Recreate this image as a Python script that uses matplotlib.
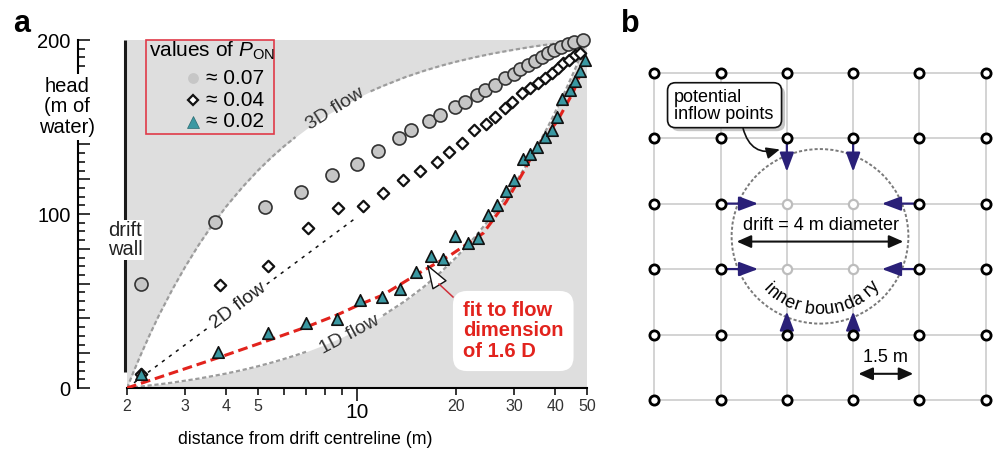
import numpy as np
import matplotlib
matplotlib.use("Agg")
import matplotlib.pyplot as plt
from matplotlib.lines import Line2D
from matplotlib.patches import Rectangle, FancyBboxPatch, Circle
from matplotlib.ticker import FixedLocator, FuncFormatter, MultipleLocator

plt.rcParams["font.family"] = ["Liberation Sans", "DejaVu Sans"]
plt.rcParams["mathtext.fontset"] = "custom"
plt.rcParams["mathtext.rm"] = "Liberation Sans"
plt.rcParams["mathtext.it"] = "Liberation Sans:italic"

# ---- panel a: head (m of water) vs distance from drift centreline (m) ----
r_p07 = [2.2, 3.7, 5.26, 6.76, 8.41, 10.0, 11.6, 13.4, 14.6, 16.5, 17.9, 19.9, 21.3, 23.1,
         24.5, 26.2, 28.2, 29.9, 31.3, 33.2, 34.8, 36.4, 38.0, 39.8, 41.6, 43.7, 45.7, 48.7]
h_p07 = [59.5, 95.6, 104.2, 112.8, 122.4, 129.0, 136.4, 143.5, 148.3, 153.6, 156.9, 161.3, 164.6, 168.4,
         171.3, 174.1, 178.0, 180.5, 183.2, 185.6, 188.1, 190.0, 192.3, 194.3, 196.1, 197.7, 199.0, 200.0]

r_p04 = [2.2, 3.83, 5.38, 7.11, 8.73, 10.45, 12.0, 13.8, 15.5, 17.5, 19.0, 20.8, 22.6, 24.6,
         26.2, 28.2, 29.5, 31.7, 33.6, 35.6, 37.3, 39.1, 40.9, 42.4, 44.2, 46.0, 47.6]
h_p04 = [8.0, 59.2, 70.1, 91.8, 103.6, 104.7, 111.9, 119.5, 124.8, 130.0, 135.8, 140.6, 148.3, 151.7,
         155.6, 160.7, 164.5, 169.7, 172.2, 175.5, 178.0, 180.9, 183.7, 186.6, 188.5, 191.4, 192.7]

r_p02 = [2.2, 3.77, 5.37, 6.98, 8.67, 10.2, 11.9, 13.5, 15.1, 16.75, 18.3, 19.9, 21.7, 23.4, 25.0,
         26.6, 28.4, 30.1, 31.9, 33.6, 35.2, 37.3, 39.1, 40.5, 41.9, 44.4, 46.0, 47.6, 49.3]
h_p02 = [8.0, 20.9, 31.4, 37.5, 39.7, 50.8, 52.3, 57.0, 66.5, 75.9, 74.0, 87.2, 83.3, 86.0, 99.4,
         105.1, 113.1, 119.3, 131.5, 134.7, 138.7, 144.2, 148.5, 155.8, 165.9, 171.3, 176.3, 182.1, 188.3]

# theoretical profiles (3D / 1D flow)
r_theory = [2, 2.1, 2.2, 2.35, 2.5, 2.75, 3, 3.3, 3.6, 4, 4.5, 5, 5.5, 6, 6.5, 7, 8, 9, 10, 11,
            12, 14, 16, 18, 20, 23, 26, 30, 34, 38, 42, 46, 50]
h_3d = [0, 9.9, 18.9, 31.0, 41.7, 56.8, 69.4, 82.1, 92.6, 104.2, 115.7, 125.0, 132.6, 138.9, 144.2,
        148.8, 156.3, 162.0, 166.7, 170.5, 173.6, 178.6, 182.3, 185.2, 187.5, 190.2, 192.3, 194.4,
        196.1, 197.4, 198.4, 199.3, 200.0]
h_1d = [0, 0.4, 0.8, 1.5, 2.1, 3.1, 4.2, 5.4, 6.7, 8.3, 10.4, 12.5, 14.6, 16.7, 18.75, 20.8, 25.0,
        29.2, 33.3, 37.5, 41.7, 50.0, 58.3, 66.7, 75.0, 87.5, 100.0, 116.7, 133.3, 150.0, 166.7,
        183.3, 200.0]
r_2d = [2, 9.8]
h_2d = [0, 97]

r_fit = [2, 3.8, 5.4, 7.0, 8.7, 10.2, 12, 15.1, 19.1, 24.2, 28.4, 32, 35.3, 40.5, 45.4, 49.6]
h_fit = [0, 17.5, 27.5, 35, 42, 48, 53.5, 65, 76, 89, 107, 124, 139, 153, 170, 188.5]

major_x = [10]
minor_x = [2, 3, 4, 5, 6, 7, 8, 9, 20, 30, 40, 50]
minor_x_labels = {2: "2", 3: "3", 4: "4", 5: "5", 20: "20", 30: "30", 40: "40", 50: "50"}
y_labels = {0: "0", 100: "100", 200: "200"}

legend_labels = ["\u2248 0.07", "\u2248 0.04", "\u2248 0.02"]

# ---- panel b: model grid (m) ----
grid_x = [0.0, 1.5, 3.0, 4.5, 6.0, 7.5]
grid_y = [0.0, 1.5, 3.0, 4.5, 6.0, 7.5]
inner_nodes = [(3.0, 3.0), (3.0, 4.5), (4.5, 3.0), (4.5, 4.5)]
drift_centre = (3.75, 3.75)
drift_radius = 2.0
inflow_start = [(3.0, 6.0), (4.5, 6.0), (3.0, 1.5), (4.5, 1.5),
                (1.5, 4.5), (1.5, 3.0), (6.0, 4.5), (6.0, 3.0)]
inflow_end = [(3.0, 5.23), (4.5, 5.23), (3.0, 2.03), (4.5, 2.03),
              (2.35, 4.5), (2.35, 3.0), (5.15, 4.5), (5.15, 3.0)]

W, H = 998, 455
fig = plt.figure(figsize=(W / 100, H / 100), dpi=100)


def px(x, y):
    # figure pixel (from top-left) -> figure fraction
    return x / W, 1 - y / H


GRAY_BG = "#dedede"
CIRC_FC = "#c6c6c6"
TEAL = "#3a98a2"
RED = "#e2231d"
NAVY = "#2a2078"

# ================= panel a =================
ax = fig.add_axes([127 / W, 1 - 388 / H, 460 / W, 348 / H])
ax.set_xscale("log")
ax.set_xlim(2, 50)
ax.set_ylim(0, 200)
ax.set_facecolor(GRAY_BG)
for s in ["top", "right"]:
    ax.spines[s].set_visible(False)
ax.spines["left"].set_position(("outward", 35))
ax.spines["left"].set_bounds(0, 200)
ax.spines["left"].set_linewidth(1.5)
ax.spines["bottom"].set_linewidth(1.5)

ax.yaxis.set_major_locator(FixedLocator(list(range(0, 201, 20))))
ax.yaxis.set_minor_locator(MultipleLocator(5))
ax.yaxis.set_major_formatter(FuncFormatter(lambda v, _: y_labels.get(int(round(v)), "")))
ax.tick_params(axis="y", which="major", direction="in", length=8.6, width=1.1,
               labelsize=14.5, pad=5.5)
ax.tick_params(axis="y", which="minor", direction="in", length=4.8, width=1.1)

ax.xaxis.set_major_locator(FixedLocator(major_x))
ax.xaxis.set_minor_locator(FixedLocator(minor_x))
ax.xaxis.set_major_formatter(FuncFormatter(lambda v, _: "10"))
ax.xaxis.set_minor_formatter(FuncFormatter(lambda v, _: minor_x_labels.get(int(round(v)), "")))
ax.tick_params(axis="x", which="major", direction="out", length=9.5, width=1.1,
               labelsize=15, pad=1)
ax.tick_params(axis="x", which="minor", direction="out", length=5, width=1.1,
               labelsize=11.5, pad=3, labelcolor="#333333")

# white region between the 3D and 1D profiles
ax.fill_between(r_theory, h_1d, h_3d, color="white", lw=0, zorder=1)

r_arr = np.array(r_theory)
h3 = np.where((r_arr > 6.5) & (r_arr < 11), np.nan, h_3d)
h1 = np.where((r_arr > 7) & (r_arr < 12), np.nan, h_1d)
ax.plot(r_arr, h3, color="#9c9c9c", lw=1.6, dashes=(1.9, 1.2), zorder=2)
ax.plot(r_arr, h1, color="#9c9c9c", lw=1.6, dashes=(1.9, 1.2), zorder=2)
ax.plot(r_2d, h_2d, color="#111111", lw=1.1, dashes=(2.2, 3.5), zorder=2)
ax.plot(r_fit, h_fit, color=RED, lw=2.2, dashes=(3.2, 1.6), zorder=3)

ax.scatter(r_p07, h_p07, s=88, marker="o", fc=CIRC_FC, ec="#333333", lw=1.2, zorder=4, clip_on=False)
ax.scatter(r_p04, h_p04, s=34, marker="D", fc="white", ec="#111111", lw=1.6, zorder=4, clip_on=False)
ax.scatter(r_p02, h_p02, s=68, marker="^", fc=TEAL, ec="#111111", lw=1.2, zorder=5, clip_on=False)

# drift wall
ax.plot([1.975, 1.975], [9, 200], color="#1a1a1a", lw=2.2, solid_capstyle="butt",
        clip_on=False, zorder=6)
ax.text(1.975, 85, "drift\nwall", ha="center", va="center", fontsize=14.5, linespacing=1.0,
        color="#222222", bbox=dict(boxstyle="square,pad=0.05", fc="white", ec="none"),
        zorder=7, clip_on=False)

ax.text(8.58, 160.5, "3D flow", rotation=32, ha="center", va="center", fontsize=14,
        color="#333333", rotation_mode="anchor", zorder=6)
ax.text(4.36, 47, "2D flow", rotation=37, ha="center", va="center", fontsize=14,
        color="#222222", rotation_mode="anchor", zorder=6,
        bbox=dict(boxstyle="square,pad=0.1", fc="white", ec="none"))
ax.text(9.53, 30.5, "1D flow", rotation=28, ha="center", va="center", fontsize=14,
        color="#333333", rotation_mode="anchor", zorder=6)

# y label breaking the axis
fig.text(*px(67, 107), "head\n(m of\nwater)", ha="center", va="center", fontsize=14.5,
         linespacing=1.12, bbox=dict(boxstyle="square,pad=0.15", fc="white", ec="none"))
fig.text(*px(305, 440), "distance from drift centreline (m)", ha="center", va="center",
         fontsize=12.8)

# legend box
fig.add_artist(Rectangle(px(146, 134), 128 / W, 94 / H, transform=fig.transFigure,
                         fill=False, ec="#e03a48", lw=1.2))
fig.text(*px(149, 51), "values of $P_{\\mathrm{ON}}$", ha="left", va="center", fontsize=15)
leg_y = [78, 100, 122]
leg_style = [dict(marker="o", ms=7.8, mfc=CIRC_FC, mec=CIRC_FC, mew=0),
             dict(marker="D", ms=5.4, mfc="white", mec="#111111", mew=1.6),
             dict(marker="^", ms=8.3, mfc=TEAL, mec="#2a6a70", mew=0.5)]
for yy, lab, st in zip(leg_y, legend_labels, leg_style):
    fx, fy = px(193, yy)
    fig.add_artist(Line2D([fx], [fy], transform=fig.transFigure, ls="none", **st))
    fig.text(*px(206, yy), lab, ha="left", va="center", fontsize=15)

# fit annotation
fig.text(*px(463, 331), "fit to flow\ndimension\nof 1.6 D", ha="left", va="center",
         color=RED, fontweight="bold", fontsize=14.5, linespacing=1.1,
         bbox=dict(boxstyle="round,pad=0.5,rounding_size=0.7", fc="white", ec="none"))
fig.add_artist(Line2D([px(453, 297)[0], px(439, 284)[0]], [px(453, 297)[1], px(439, 284)[1]],
                      transform=fig.transFigure, color="#d0303a", lw=1.1))
ax.annotate("", xy=px(426.7, 264), xytext=px(439, 284), xycoords="figure fraction",
            textcoords="figure fraction",
            arrowprops=dict(arrowstyle="-|>,head_length=1.6,head_width=0.55", fc="white",
                            ec="#111111", lw=1.0, shrinkA=0, shrinkB=0), zorder=8)

fig.text(*px(13, 32), "a", fontsize=22, fontweight="bold", ha="left", va="baseline")
fig.text(*px(621, 31.5), "b", fontsize=22, fontweight="bold", ha="left", va="baseline")

# ================= panel b =================
axb = fig.add_axes([620 / W, 1 - 440 / H, 378 / W, 400 / H])
axb.set_xlim(-0.776, 7.778)
axb.set_ylim(-0.917, 8.249)
axb.axis("off")

for gy in grid_y:
    axb.plot([grid_x[0], grid_x[-1]], [gy, gy], color="#c8c8c8", lw=1.1, zorder=1)
for gx in grid_x:
    axb.plot([gx, gx], [grid_y[0], grid_y[-1]], color="#c8c8c8", lw=1.1, zorder=1)

axb.add_patch(Circle(drift_centre, drift_radius, fill=False, ec="#7a7a7a", lw=1.4,
                     ls=(0, (1.6, 1.1)), zorder=2))

for (x0, y0), (x1, y1) in zip(inflow_start, inflow_end):
    axb.annotate("", xy=(x1, y1), xytext=(x0, y0),
                 arrowprops=dict(arrowstyle="-|>,head_length=1.15,head_width=0.43",
                                 color=NAVY, lw=1.6, shrinkA=0, shrinkB=0), zorder=3)

outer = [(gx, gy) for gx in grid_x for gy in grid_y if (gx, gy) not in inner_nodes]
axb.scatter([p[0] for p in outer], [p[1] for p in outer], s=44, fc="white", ec="black",
            lw=2.0, zorder=4)
axb.scatter([p[0] for p in inner_nodes], [p[1] for p in inner_nodes], s=44, fc="white",
            ec="#bdbdbd", lw=1.6, zorder=4)

axb.text(3.78, 3.99, "drift = 4 m diameter", ha="center", va="center", fontsize=13, zorder=5)
axb.annotate("", xy=(5.635, 3.63), xytext=(1.865, 3.63),
             arrowprops=dict(arrowstyle="<|-|>,head_length=0.86,head_width=0.38",
                             color="#111111", lw=1.5, shrinkA=0, shrinkB=0), zorder=5)

axb.text(5.24, 0.98, "1.5 m", ha="center", va="center", fontsize=13, zorder=5)
axb.annotate("", xy=(5.86, 0.6), xytext=(4.62, 0.6),
             arrowprops=dict(arrowstyle="<|-|>,head_length=0.86,head_width=0.38",
                             color="#111111", lw=1.5, shrinkA=0, shrinkB=0), zorder=5)

# callout box with shadow
axb.add_patch(FancyBboxPatch((0.38, 6.16), 2.58, 1.03, boxstyle="round,pad=0,rounding_size=0.18",
                             fc="#9a9a9a", ec="none", alpha=0.55, zorder=5))
axb.add_patch(FancyBboxPatch((0.30, 6.24), 2.58, 1.03, boxstyle="round,pad=0,rounding_size=0.18",
                             fc="white", ec="#111111", lw=1.2, zorder=6))
axb.text(0.44, 6.74, "potential\ninflow points", ha="left", va="center", fontsize=13,
         linespacing=1.05, zorder=7)
axb.annotate("", xy=(2.84, 5.74), xytext=(2.01, 6.22),
             arrowprops=dict(arrowstyle="-|>,head_length=0.8,head_width=0.35",
                             connectionstyle="arc3,rad=0.5", color="#111111", lw=1.2,
                             shrinkA=0, shrinkB=0), zorder=7)

# curved label along the inner boundary
arc_label = "inner bounda ry"
char_w = {"i": .222, "n": .556, "e": .556, "r": .333, " ": .278, "b": .556, "o": .556,
          "u": .556, "d": .556, "a": .556, "y": .5}
deg_per_em = 14.0
total = sum(char_w[c] for c in arc_label)
theta = 271.5 - total * deg_per_em / 2
for c in arc_label:
    th = theta + char_w[c] * deg_per_em / 2
    cx = drift_centre[0] + 1.68 * np.cos(np.radians(th))
    cy = drift_centre[1] + 1.68 * np.sin(np.radians(th))
    axb.text(cx, cy, c, rotation=th - 270, ha="center", va="center", rotation_mode="anchor",
             fontsize=13, zorder=5)
    theta += char_w[c] * deg_per_em

fig.savefig("out.png", dpi=100)
